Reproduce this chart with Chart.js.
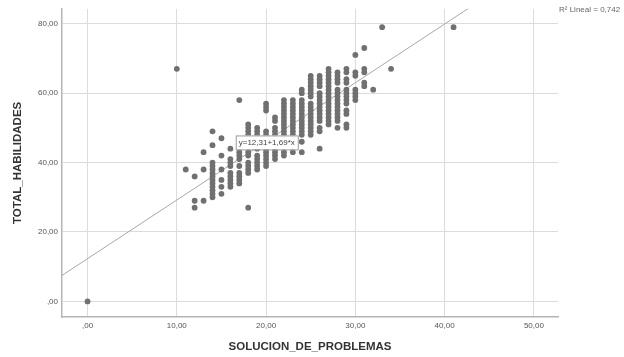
<!DOCTYPE html>
<html>
<head>
<meta charset="utf-8">
<script src="https://cdn.jsdelivr.net/npm/chart.js@4.4.1/dist/chart.umd.min.js"></script>
<style>
  html, body { margin: 0; padding: 0; background: #fff; }
  #wrap { width: 624px; height: 357px; }
</style>
</head>
<body>
<div id="wrap"><canvas id="chart" width="624" height="357"></canvas></div>
<script>
// columns of the scatter: x value and the y values stacked on it
const colX = [0, 10, 11, 12, 13, 14, 15, 16, 17, 18, 19, 20, 21, 22, 23, 24, 25, 26, 27, 28, 29, 30, 31, 32, 33, 34, 41];
const colY = [
  [0],
  [67],
  [38],
  [36, 29, 27],
  [43, 38, 29],
  [49, 45, 40, 39, 38, 37, 36, 35, 34, 33, 32, 31, 30],
  [47, 42, 38, 35, 33, 31],
  [44, 41, 40, 39, 37, 36, 35, 34, 33],
  [58, 46, 45, 43, 42, 41, 39, 37, 36, 35, 34],
  [51, 50, 49, 48, 47, 43, 42, 40, 39, 38, 37, 27],
  [50, 49, 48, 47, 46, 45, 44, 42, 41, 40, 39, 38],
  [57, 56, 55, 49, 48, 47, 46, 45, 44, 43, 42, 41, 40, 39],
  [53, 52, 50, 49, 48, 47, 46, 45, 44, 43, 42, 41],
  [58, 57, 56, 55, 54, 53, 52, 51, 50, 49, 48, 47, 46, 43, 42],
  [58, 57, 56, 55, 54, 53, 52, 51, 50, 49, 48, 47, 43],
  [61, 60, 58, 57, 56, 55, 54, 53, 52, 51, 50, 49, 48, 46, 43],
  [65, 64, 63, 62, 61, 60, 59, 57, 56, 55, 54, 53, 52, 51, 50, 49, 48],
  [65, 64, 63, 62, 60, 59, 58, 57, 56, 55, 54, 53, 52, 50, 49, 44],
  [67, 66, 65, 64, 63, 62, 61, 60, 59, 58, 57, 56, 55, 54, 53, 52, 51],
  [66, 65, 64, 63, 61, 60, 59, 58, 57, 56, 55, 54, 53, 52, 50],
  [67, 66, 64, 63, 61, 60, 59, 58, 57, 55, 54, 51, 50],
  [71, 66, 65, 61, 60, 59, 58],
  [73, 67, 66, 63, 62],
  [61],
  [79],
  [67],
  [79]
];

// linear fit shown on the chart
const fitIntercept = 12.31;
const fitSlope = 1.69;
const fitLabel = 'y=12,31+1,69*x';
const r2Label = 'R\u00b2 Lineal = 0,742';

const xTicks = [0, 10, 20, 30, 40, 50];
const yTicks = [0, 20, 40, 60, 80];
const xRange = [-2.86, 52.7];
const yRange = [-4.5, 84.3];

const points = [];
colX.forEach((x, i) => {
  colY[i].forEach(y => points.push({ x: x, y: y }));
});

const fitLine = xRange.map(x => ({ x: x, y: fitIntercept + fitSlope * x }));

function fmt(v) {
  let s = v.toFixed(2).replace('.', ',');
  if (s.startsWith('0,')) s = s.slice(1);
  return s;
}

// axis titles, fit label box and R2 note
const extras = {
  id: 'extras',
  afterDraw(chart) {
    const ctx = chart.ctx;
    const xs = chart.scales.x, ys = chart.scales.y;
    ctx.save();
    ctx.fillStyle = '#333';
    ctx.font = 'bold 11.5px "Liberation Sans", Arial, sans-serif';
    ctx.textAlign = 'center';
    ctx.textBaseline = 'middle';
    ctx.fillText('SOLUCION_DE_PROBLEMAS', (chart.chartArea.left + chart.chartArea.right) / 2, 347);
    ctx.translate(18, (chart.chartArea.top + chart.chartArea.bottom) / 2);
    ctx.rotate(-Math.PI / 2);
    ctx.fillText('TOTAL_HABILIDADES', 0, 0);
    ctx.restore();

    // fit equation box
    ctx.save();
    ctx.font = '8px "Liberation Sans", Arial, sans-serif';
    const bx = xs.getPixelForValue(16.6);
    const by = ys.getPixelForValue(45.8);
    const w = ctx.measureText(fitLabel).width + 6;
    ctx.fillStyle = '#fff';
    ctx.fillRect(bx, by - 7, w, 14);
    ctx.strokeStyle = '#999';
    ctx.lineWidth = 1;
    ctx.strokeRect(bx + 0.5, by - 6.5, w, 14);
    ctx.fillStyle = '#444';
    ctx.textAlign = 'left';
    ctx.textBaseline = 'middle';
    ctx.fillText(fitLabel, bx + 3, by + 0.5);

    // R2 note
    ctx.font = '8px "Liberation Sans", Arial, sans-serif';
    ctx.fillStyle = '#666';
    ctx.fillText(r2Label, 559, 10);
    ctx.restore();
  }
};

new Chart(document.getElementById('chart'), {
  type: 'scatter',
  data: {
    datasets: [
      {
        label: 'data',
        data: points,
        backgroundColor: '#707070',
        borderColor: '#707070',
        borderWidth: 0,
        pointRadius: 2.9,
        pointHoverRadius: 2.9
      },
      {
        label: 'fit',
        type: 'line',
        data: fitLine,
        borderColor: '#a8a8a8',
        borderWidth: 1,
        pointRadius: 0,
        fill: false
      }
    ]
  },
  options: {
    responsive: false,
    animation: false,
    layout: { padding: { top: 4, right: 66, left: 0, bottom: 0 } },
    plugins: {
      legend: { display: false },
      tooltip: { enabled: false }
    },
    scales: {
      x: {
        type: 'linear',
        min: xRange[0],
        max: xRange[1],
        afterBuildTicks: axis => { axis.ticks = xTicks.map(v => ({ value: v })); },
        afterFit: scale => { scale.height = 40; },
        ticks: {
          callback: v => fmt(v),
          font: { size: 8, family: '"Liberation Sans", Arial, sans-serif' },
          color: '#555',
          maxRotation: 0,
          padding: 4
        },
        grid: { color: '#dcdcdc', lineWidth: 1, drawTicks: false },
        border: { color: '#b5b5b5', width: 1.5 }
      },
      y: {
        type: 'linear',
        min: yRange[0],
        max: yRange[1],
        afterBuildTicks: axis => { axis.ticks = yTicks.map(v => ({ value: v })); },
        afterFit: scale => { scale.width = 62; },
        ticks: {
          callback: v => fmt(v),
          font: { size: 8, family: '"Liberation Sans", Arial, sans-serif' },
          color: '#555',
          padding: 4
        },
        grid: { color: '#dcdcdc', lineWidth: 1, drawTicks: false },
        border: { color: '#b5b5b5', width: 1.5 }
      }
    }
  },
  plugins: [extras]
});
</script>
</body>
</html>
